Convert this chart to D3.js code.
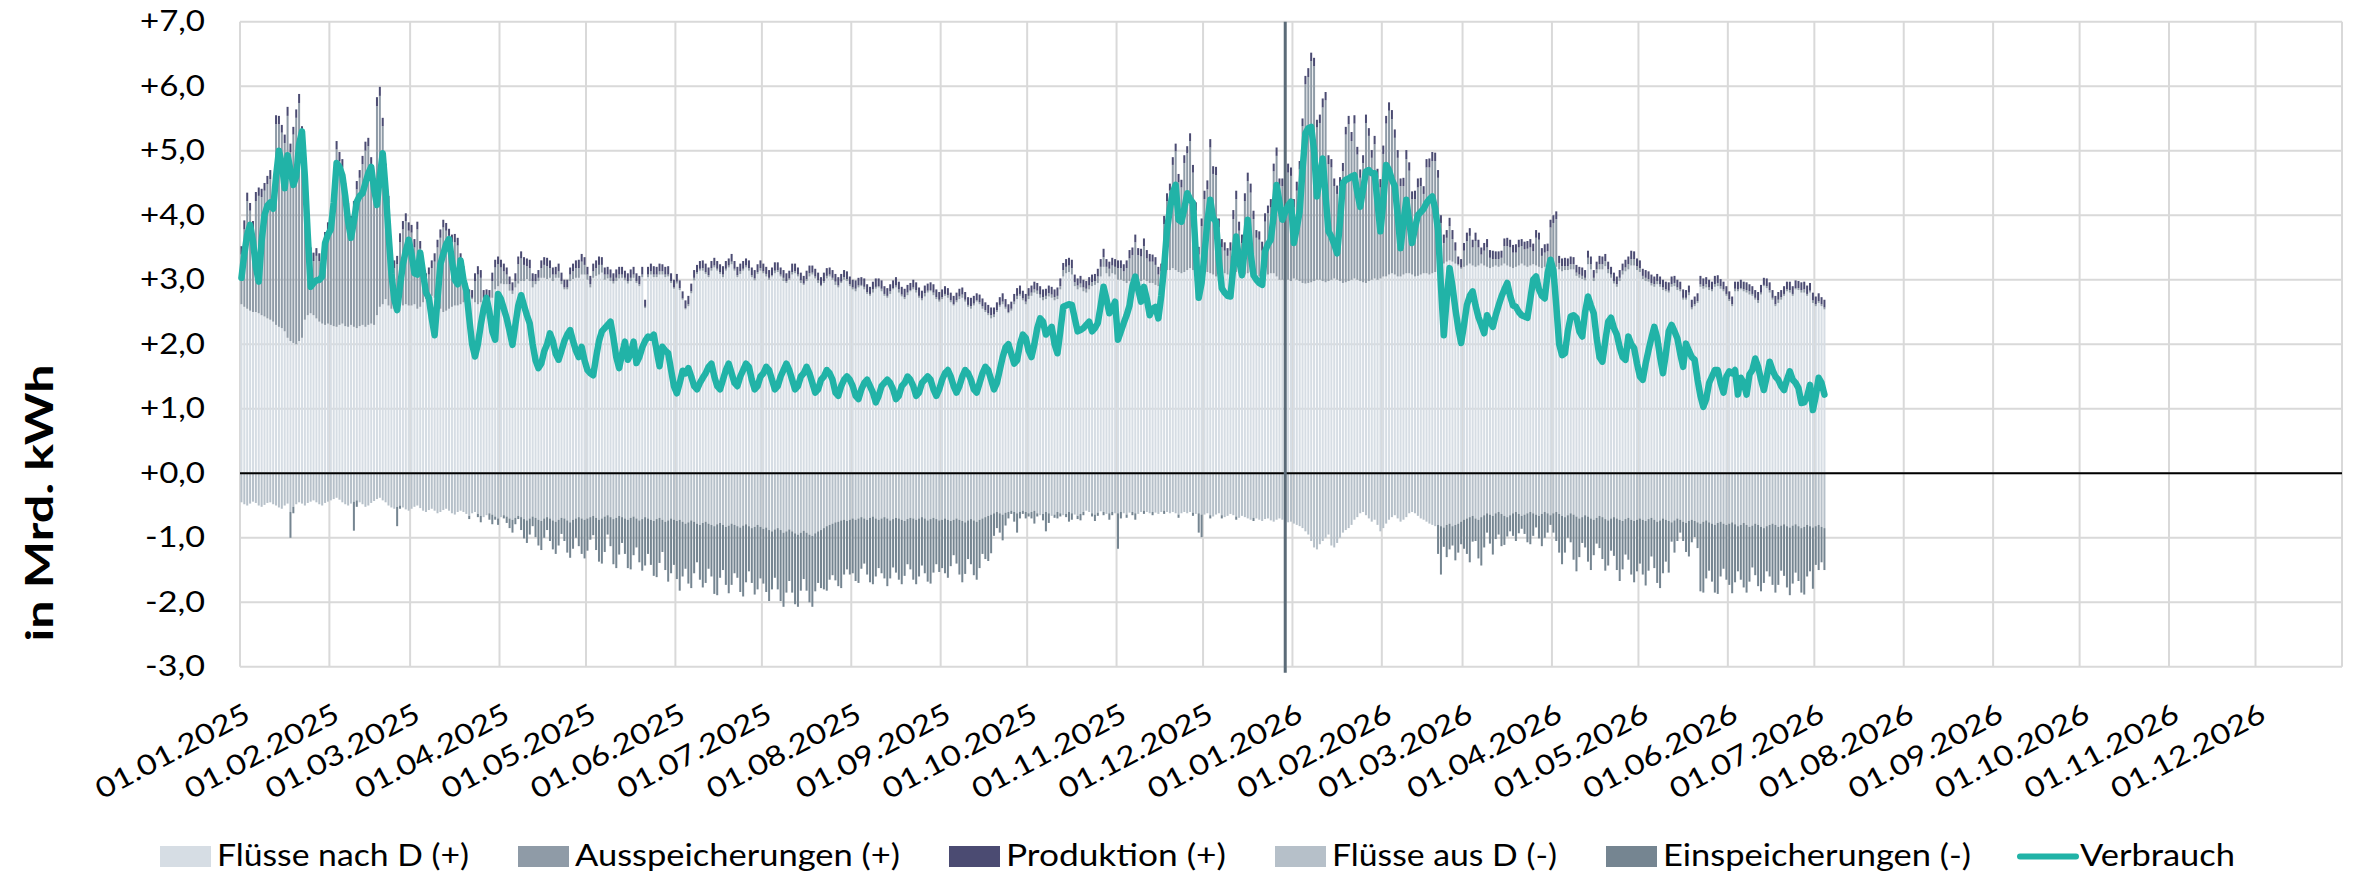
<!DOCTYPE html>
<html>
<head>
<meta charset="utf-8">
<script src="https://cdn.jsdelivr.net/npm/d3@7"></script>
<style>
  body { margin: 0; background: #fff; }
  svg text { font-family: Lato, "Open Sans", sans-serif; fill: #000; }
</style>
</head>
<body>
<svg id="chart" width="2356" height="876"></svg>
<script>
// daily values in Mrd. kWh, starting 01.01.2025 (one row per month)
const startDate = new Date(2025, 0, 1);

const verbrauch = [
  3.03,3.4,3.7,3.85,3.6,3.2,2.97,3.6,4.0,4.15,4.2,4.1,4.6,5.0,4.8,4.42,4.93,4.7,4.47,4.6,5.1,5.3,4.6,3.7,2.89,2.95,2.99,3.0,3.05,3.57,3.7,
  3.78,4.2,4.81,4.75,4.62,4.3,3.9,3.65,3.9,4.21,4.3,4.34,4.5,4.65,4.75,4.4,4.16,4.6,4.96,4.4,3.72,3.1,2.7,2.53,2.9,3.24,3.45,3.62,
  3.4,3.1,3.08,3.42,3.1,2.8,2.72,2.4,2.14,2.7,3.24,3.4,3.55,3.63,3.3,3.0,2.93,3.3,3.0,2.83,2.4,2.0,1.81,2.0,2.3,2.55,2.72,2.5,2.2,2.07,2.78,
  2.7,2.55,2.4,2.2,1.99,2.3,2.6,2.76,2.6,2.45,2.32,2.0,1.75,1.63,1.7,1.89,2.0,2.17,2.05,1.85,1.76,1.9,2.05,2.15,2.22,2.05,1.9,1.8,1.96,1.75,
  1.6,1.55,1.52,1.8,2.05,2.2,2.25,2.3,2.35,2.1,1.8,1.63,1.85,2.04,1.76,1.85,2.04,1.71,1.8,1.95,2.05,2.12,2.1,2.15,1.9,1.66,1.96,1.9,1.86,1.6,1.35,
  1.24,1.4,1.59,1.55,1.63,1.5,1.35,1.3,1.4,1.48,1.55,1.65,1.7,1.5,1.35,1.3,1.45,1.6,1.7,1.55,1.4,1.35,1.5,1.6,1.7,1.65,1.45,1.3,1.35,1.5,
  1.55,1.65,1.6,1.45,1.3,1.35,1.5,1.6,1.7,1.6,1.45,1.3,1.35,1.5,1.55,1.65,1.55,1.4,1.25,1.3,1.45,1.5,1.6,1.55,1.45,1.25,1.2,1.35,1.45,1.5,1.45,
  1.35,1.2,1.15,1.3,1.4,1.45,1.35,1.25,1.1,1.2,1.35,1.4,1.45,1.4,1.3,1.15,1.2,1.35,1.4,1.5,1.45,1.35,1.2,1.25,1.4,1.45,1.5,1.45,1.3,1.2,1.3,
  1.45,1.55,1.6,1.5,1.35,1.25,1.35,1.5,1.6,1.55,1.45,1.3,1.25,1.4,1.55,1.65,1.6,1.45,1.3,1.4,1.6,1.8,1.95,2.0,1.85,1.7,1.75,2.0,2.15,2.1,
  1.9,1.8,2.0,2.25,2.4,2.35,2.15,2.2,2.27,2.0,1.86,2.2,2.58,2.6,2.62,2.61,2.4,2.2,2.22,2.25,2.3,2.35,2.2,2.25,2.33,2.6,2.89,2.7,2.48,2.55,2.66,
  2.07,2.2,2.33,2.45,2.6,2.9,3.05,2.85,2.66,2.89,2.7,2.45,2.55,2.58,2.4,2.75,3.2,3.77,4.1,4.35,4.47,3.93,3.9,4.1,4.34,4.25,4.19,3.4,2.72,2.95,
  3.4,3.9,4.24,3.95,3.9,3.3,2.87,2.8,2.75,2.74,3.2,3.67,3.3,3.07,3.5,3.93,3.4,3.07,3.0,2.95,2.92,3.44,3.55,3.62,4.0,4.47,4.2,3.93,4.05,4.15,4.21,
  3.57,3.8,4.06,4.7,5.27,5.35,5.37,5.0,4.29,4.6,4.88,4.3,3.75,3.67,3.55,3.41,3.9,4.5,4.55,4.57,4.6,4.62,4.35,4.13,4.4,4.68,4.7,4.65,4.65,4.2,3.75,
  4.2,4.78,4.7,4.55,4.45,4.0,3.49,3.9,4.24,3.9,3.57,3.8,4.0,4.05,4.1,4.19,4.25,4.29,4.1,3.77,2.9,2.14,2.7,3.18,2.9,2.55,2.25,2.02,
  2.3,2.61,2.75,2.82,2.6,2.42,2.3,2.17,2.45,2.35,2.27,2.45,2.6,2.74,2.85,2.95,2.75,2.6,2.58,2.5,2.45,2.43,2.41,2.7,3.0,3.05,2.85,2.75,2.71,3.1,3.31,
  3.15,2.6,2.0,1.83,1.86,2.2,2.43,2.45,2.41,2.2,2.12,2.5,2.74,2.6,2.48,2.1,1.8,1.73,2.05,2.35,2.41,2.25,2.15,1.95,1.8,1.76,2.12,2.0,1.94,1.7,
  1.5,1.45,1.7,1.91,2.1,2.27,2.1,1.8,1.55,1.85,2.2,2.3,2.2,2.09,1.85,1.65,2.01,1.9,1.8,1.76,1.45,1.2,1.03,1.15,1.4,1.5,1.6,1.6,1.4,1.25,1.5,
  1.58,1.55,1.6,1.22,1.48,1.4,1.22,1.53,1.6,1.78,1.65,1.45,1.29,1.5,1.73,1.6,1.5,1.45,1.35,1.29,1.45,1.58,1.45,1.4,1.32,1.09,1.1,1.19,1.37,0.98,
  1.2,1.48,1.4,1.22
];

const flussNachD = [
  2.62,2.58,2.55,2.52,2.5,2.5,2.48,2.45,2.43,2.4,2.38,2.35,2.3,2.27,2.25,2.2,2.1,2.05,2.02,2.0,2.05,2.1,2.38,2.45,2.48,2.45,2.4,2.35,2.32,2.3,2.32,
  2.3,2.28,2.27,2.3,2.32,2.28,2.27,2.3,2.27,2.25,2.28,2.3,2.27,2.3,2.32,2.3,2.45,2.58,2.62,2.7,2.6,2.55,2.55,2.55,2.6,2.6,2.62,2.6,
  2.6,2.62,2.55,2.58,2.65,2.7,2.72,2.75,2.72,2.6,2.55,2.5,2.52,2.55,2.58,2.6,2.6,2.62,2.65,2.7,2.72,2.7,2.65,2.62,2.65,2.7,2.72,2.7,2.72,2.85,2.9,
  2.94,2.93,2.93,2.83,2.78,2.88,2.94,2.98,2.98,3.01,2.98,2.88,2.93,2.98,3.03,3.03,3.01,3.03,2.98,3.03,3.03,2.93,2.85,2.85,2.98,3.01,3.03,3.03,3.08,3.08,
  3.0,2.88,3.03,3.06,3.08,3.11,3.0,3.02,2.98,2.94,2.98,3.02,3.03,2.99,2.94,2.98,3.03,2.95,2.9,3.04,2.56,3.04,3.08,3.04,3.04,3.08,3.08,3.04,3.05,2.95,2.86,
  2.94,2.84,2.69,2.54,2.59,2.79,2.99,3.09,3.14,3.14,3.09,3.04,3.14,3.19,3.14,3.09,3.04,3.14,3.19,3.24,3.14,3.04,3.09,3.14,3.19,3.14,3.04,2.99,3.09,3.14,
  3.1,3.05,3.0,3.05,3.1,3.12,3.05,2.98,2.95,3.0,3.08,3.1,3.05,2.95,2.92,2.98,3.05,3.08,3.02,2.95,2.9,2.95,3.02,3.05,3.0,2.92,2.88,2.95,3.0,2.98,2.9,
  2.85,2.82,2.88,2.9,2.85,2.78,2.75,2.8,2.86,2.88,2.82,2.75,2.72,2.78,2.85,2.88,2.8,2.74,2.7,2.76,2.82,2.85,2.8,2.72,2.68,2.74,2.8,2.82,2.76,2.7,2.66,
  2.7,2.75,2.72,2.65,2.6,2.65,2.7,2.72,2.66,2.58,2.55,2.6,2.66,2.62,2.55,2.5,2.45,2.4,2.42,2.5,2.58,2.62,2.55,2.48,2.52,2.62,2.7,2.75,2.68,2.62,
  2.7,2.75,2.8,2.78,2.72,2.68,2.7,2.74,2.72,2.68,2.7,2.85,3.05,3.1,3.12,3.08,2.9,2.85,2.88,2.82,2.8,2.85,2.9,2.92,2.95,3.05,3.2,3.1,3.05,3.1,3.08,
  3.0,3.0,2.98,2.95,2.98,3.0,3.02,3.0,2.98,3.0,2.98,2.95,2.95,2.92,2.9,2.92,3.1,3.15,3.15,3.18,3.15,3.12,3.1,3.12,3.15,3.18,3.15,3.1,3.05,3.1,
  3.1,3.12,3.1,3.08,3.05,3.1,3.12,3.1,3.08,3.05,3.1,3.12,3.1,3.05,3.08,3.1,3.12,3.1,3.08,3.05,3.02,3.05,3.08,3.1,3.1,3.05,3.0,3.0,3.02,3.0,2.98,
  3.02,3.0,2.98,2.95,2.94,2.95,2.96,2.98,3.0,3.0,2.98,2.96,2.98,3.0,3.02,3.0,2.98,2.95,2.96,2.98,3.0,3.02,3.0,2.98,2.96,2.95,2.98,3.0,3.02,3.0,3.02,
  3.05,3.05,3.08,3.1,3.08,3.05,3.05,3.08,3.1,3.1,3.08,3.05,3.06,3.08,3.1,3.1,3.08,3.1,3.12,3.15,3.2,3.25,3.28,3.3,3.28,3.25,3.22,3.17,
  3.2,3.22,3.25,3.22,3.2,3.22,3.25,3.22,3.2,3.18,3.2,3.22,3.2,3.22,3.25,3.22,3.2,3.18,3.2,3.22,3.25,3.22,3.2,3.22,3.24,3.22,3.2,3.18,3.2,3.22,3.25,
  3.2,3.2,3.16,3.13,3.15,3.15,3.16,3.16,3.06,3.03,3.01,2.99,3.24,3.16,2.98,3.1,3.16,3.16,3.21,3.1,3.03,2.94,2.89,2.98,3.08,3.13,3.16,3.22,3.22,3.15,
  3.12,3.01,2.98,2.97,2.91,2.89,2.93,2.89,2.84,2.82,2.8,2.89,2.9,2.84,2.82,2.69,2.69,2.76,2.54,2.59,2.64,2.89,2.86,2.88,2.84,2.82,2.89,2.9,2.86,2.82,2.75,
  2.67,2.59,2.82,2.82,2.85,2.82,2.8,2.77,2.75,2.69,2.64,2.77,2.9,2.87,2.8,2.69,2.59,2.64,2.69,2.75,2.82,2.8,2.75,2.85,2.84,2.8,2.8,2.75,2.8,2.64,
  2.59,2.64,2.59,2.54
];

const ausspeicherung = [
  0.77,1.2,1.67,1.55,1.28,1.72,1.82,1.83,1.95,2.08,2.18,1.98,3.11,3.14,3.03,2.92,3.44,2.93,3.23,3.51,3.69,3.15,1.94,1.15,0.9,0.84,0.97,0.94,0.92,1.3,1.44,
  1.51,2.0,2.75,2.54,2.42,2.1,1.8,1.56,1.81,2.15,2.3,2.49,2.73,2.77,2.46,1.92,3.24,3.27,2.76,1.98,1.58,0.51,0.63,0.69,0.98,1.18,1.29,1.16,
  1.13,0.88,1.23,0.9,0.43,0.28,0.36,0.43,0.56,0.9,1.1,1.31,1.24,1.13,1.0,0.98,0.93,0.67,0.43,0.13,0.02,0.02,0.33,0.46,0.38,0.02,0.02,0.02,0.26,0.34,0.34,
  0.25,0.2,0.15,0.1,0.05,0.1,0.3,0.35,0.25,0.2,0.2,0.1,0.05,0.05,0.15,0.2,0.2,0.15,0.1,0.05,0.1,0.05,0.03,0.03,0.1,0.12,0.15,0.15,0.2,0.15,
  0.08,0.05,0.1,0.12,0.15,0.12,0.08,0.06,0.05,0.04,0.05,0.06,0.05,0.04,0.04,0.05,0.05,0.03,0.03,0.04,0.02,0.04,0.05,0.04,0.04,0.05,0.05,0.04,0.03,0.03,0.02,
  0.03,0.03,0.02,0.02,0.03,0.03,0.04,0.03,0.03,0.04,0.03,0.03,0.04,0.03,0.03,0.03,0.04,0.03,0.03,0.04,0.03,0.03,0.04,0.03,0.03,0.04,0.03,0.03,0.03,0.04,
  0.03,0.04,0.03,0.02,0.04,0.03,0.03,0.05,0.03,0.02,0.04,0.03,0.03,0.04,0.02,0.03,0.05,0.03,0.03,0.04,0.02,0.03,0.04,0.03,0.03,0.05,0.03,0.02,0.04,0.03,0.03,
  0.03,0.04,0.03,0.02,0.04,0.03,0.03,0.05,0.03,0.02,0.04,0.03,0.03,0.04,0.02,0.03,0.05,0.03,0.03,0.04,0.02,0.03,0.04,0.03,0.03,0.05,0.03,0.02,0.04,0.03,0.03,
  0.03,0.03,0.04,0.03,0.02,0.03,0.04,0.05,0.03,0.03,0.04,0.03,0.02,0.03,0.04,0.03,0.03,0.05,0.04,0.03,0.03,0.04,0.03,0.02,0.03,0.04,0.05,0.03,0.03,0.04,
  0.05,0.05,0.05,0.05,0.05,0.05,0.05,0.05,0.05,0.05,0.05,0.05,0.1,0.1,0.1,0.1,0.06,0.06,0.06,0.06,0.06,0.06,0.06,0.06,0.1,0.15,0.15,0.1,0.12,0.12,0.12,
  0.18,0.18,0.15,0.23,0.35,0.38,0.56,0.38,0.38,0.52,0.35,0.33,0.33,0.31,0.18,0.21,0.76,1.07,1.23,1.6,1.84,1.39,1.33,1.69,1.81,1.97,1.51,0.97,0.34,0.73,
  1.15,1.28,1.95,1.56,1.57,0.71,0.38,0.35,0.29,0.4,0.84,1.13,0.66,0.52,1.14,1.43,1.23,0.84,0.57,0.57,0.43,0.85,0.95,1.02,1.58,1.87,1.45,1.45,0.94,1.66,1.63,
  1.1,1.38,1.73,2.43,3.09,3.19,3.43,3.33,2.36,2.43,2.69,2.82,1.81,1.74,1.43,1.33,1.47,1.73,2.29,2.43,2.15,2.4,1.94,1.6,1.85,2.48,2.25,1.89,2.08,1.58,1.41,
  1.9,2.37,2.54,2.39,2.12,1.84,1.4,1.37,1.77,1.59,1.17,1.2,1.37,1.37,1.23,1.64,1.66,1.74,1.72,1.43,0.68,0.32,0.37,0.53,0.35,0.2,0.02,0.02,
  0.25,0.38,0.43,0.28,0.4,0.28,0.14,0.23,0.3,0.16,0.12,0.1,0.12,0.12,0.27,0.3,0.3,0.24,0.22,0.28,0.27,0.25,0.28,0.28,0.2,0.43,0.42,0.19,0.22,0.22,0.56,
  0.68,0.74,0.1,0.08,0.06,0.06,0.08,0.08,0.05,0.05,0.05,0.04,0.1,0.08,0.05,0.06,0.08,0.08,0.08,0.06,0.05,0.04,0.04,0.05,0.06,0.06,0.08,0.1,0.1,0.06,
  0.06,0.05,0.05,0.04,0.04,0.04,0.05,0.04,0.04,0.03,0.03,0.04,0.05,0.04,0.03,0.03,0.03,0.04,0.03,0.03,0.03,0.04,0.04,0.05,0.04,0.03,0.04,0.05,0.04,0.03,0.03,
  0.03,0.03,0.04,0.03,0.02,0.03,0.04,0.05,0.03,0.03,0.04,0.03,0.02,0.03,0.04,0.03,0.03,0.05,0.04,0.03,0.03,0.04,0.03,0.02,0.03,0.04,0.05,0.03,0.03,0.04,
  0.03,0.03,0.03,0.03
];

const produktion = [
  0.13,0.14,0.13,0.12,0.13,0.14,0.13,0.13,0.12,0.13,0.14,0.13,0.14,0.13,0.12,0.13,0.14,0.13,0.12,0.13,0.14,0.13,0.12,0.13,0.12,0.13,0.12,0.12,0.13,0.14,0.13,
  0.13,0.12,0.13,0.14,0.13,0.12,0.12,0.13,0.14,0.13,0.12,0.13,0.14,0.13,0.12,0.13,0.14,0.14,0.13,0.12,0.12,0.13,0.12,0.13,0.14,0.13,0.12,0.13,
  0.12,0.13,0.12,0.12,0.13,0.12,0.11,0.12,0.13,0.12,0.13,0.12,0.12,0.11,0.12,0.13,0.12,0.12,0.13,0.12,0.11,0.12,0.12,0.13,0.12,0.12,0.11,0.12,0.13,0.12,0.12,
  0.12,0.12,0.11,0.12,0.13,0.12,0.12,0.11,0.12,0.12,0.13,0.12,0.11,0.12,0.12,0.12,0.13,0.12,0.11,0.12,0.12,0.13,0.12,0.12,0.11,0.12,0.12,0.13,0.12,0.12,
  0.12,0.13,0.12,0.12,0.13,0.12,0.11,0.12,0.13,0.12,0.13,0.12,0.12,0.11,0.12,0.13,0.12,0.12,0.13,0.12,0.11,0.12,0.12,0.13,0.12,0.12,0.11,0.12,0.13,0.12,0.12,
  0.12,0.12,0.11,0.12,0.13,0.12,0.12,0.11,0.12,0.12,0.13,0.12,0.11,0.12,0.12,0.12,0.13,0.12,0.11,0.12,0.12,0.13,0.12,0.12,0.11,0.12,0.12,0.13,0.12,0.12,
  0.12,0.11,0.12,0.12,0.13,0.12,0.11,0.12,0.12,0.12,0.13,0.12,0.11,0.12,0.12,0.13,0.12,0.11,0.12,0.12,0.12,0.13,0.12,0.11,0.12,0.12,0.13,0.12,0.11,0.12,0.12,
  0.12,0.13,0.12,0.12,0.13,0.12,0.11,0.12,0.13,0.12,0.13,0.12,0.12,0.11,0.12,0.13,0.12,0.12,0.13,0.12,0.11,0.12,0.12,0.13,0.12,0.12,0.11,0.12,0.13,0.12,0.12,
  0.12,0.12,0.11,0.12,0.13,0.12,0.12,0.11,0.12,0.12,0.13,0.12,0.11,0.12,0.12,0.12,0.13,0.12,0.11,0.12,0.12,0.13,0.12,0.12,0.11,0.12,0.12,0.13,0.12,0.12,
  0.12,0.11,0.12,0.12,0.13,0.12,0.11,0.12,0.12,0.12,0.13,0.12,0.11,0.12,0.12,0.13,0.12,0.11,0.12,0.12,0.12,0.13,0.12,0.11,0.12,0.12,0.13,0.12,0.11,0.12,0.12,
  0.12,0.12,0.11,0.12,0.13,0.12,0.12,0.11,0.12,0.12,0.13,0.12,0.11,0.12,0.12,0.12,0.13,0.12,0.11,0.12,0.12,0.13,0.12,0.12,0.11,0.12,0.12,0.13,0.12,0.12,
  0.13,0.14,0.13,0.12,0.13,0.14,0.13,0.13,0.12,0.13,0.14,0.13,0.14,0.13,0.12,0.13,0.14,0.13,0.12,0.13,0.14,0.13,0.12,0.13,0.12,0.13,0.12,0.12,0.13,0.14,0.13,
  0.13,0.14,0.13,0.12,0.13,0.14,0.13,0.13,0.12,0.13,0.14,0.13,0.14,0.13,0.12,0.13,0.14,0.13,0.12,0.13,0.14,0.13,0.12,0.13,0.12,0.13,0.12,0.12,0.13,0.14,0.13,
  0.13,0.12,0.13,0.14,0.13,0.12,0.12,0.13,0.14,0.13,0.12,0.13,0.14,0.13,0.12,0.13,0.14,0.14,0.13,0.12,0.12,0.13,0.12,0.13,0.14,0.13,0.12,0.13,
  0.12,0.13,0.12,0.12,0.13,0.12,0.11,0.12,0.13,0.12,0.13,0.12,0.12,0.11,0.12,0.13,0.12,0.12,0.13,0.12,0.11,0.12,0.12,0.13,0.12,0.12,0.11,0.12,0.13,0.12,0.12,
  0.12,0.12,0.11,0.12,0.13,0.12,0.12,0.11,0.12,0.12,0.13,0.12,0.11,0.12,0.12,0.12,0.13,0.12,0.11,0.12,0.12,0.13,0.12,0.12,0.11,0.12,0.12,0.13,0.12,0.12,
  0.12,0.11,0.12,0.12,0.13,0.12,0.11,0.12,0.12,0.12,0.13,0.12,0.11,0.12,0.12,0.13,0.12,0.11,0.12,0.12,0.12,0.13,0.12,0.11,0.12,0.12,0.13,0.12,0.11,0.12,0.12,
  0.12,0.12,0.11,0.12,0.13,0.12,0.12,0.11,0.12,0.12,0.13,0.12,0.11,0.12,0.12,0.12,0.13,0.12,0.11,0.12,0.12,0.13,0.12,0.12,0.11,0.12,0.12,0.13,0.12,0.12,
  0.12,0.12,0.11,0.12
];

const flussAusD = [
  -0.45,-0.48,-0.5,-0.47,-0.44,-0.46,-0.5,-0.52,-0.49,-0.46,-0.45,-0.48,-0.5,-0.53,-0.55,-0.5,-0.47,-0.6,-0.52,-0.48,-0.45,-0.47,-0.5,-0.46,-0.44,-0.42,-0.45,-0.48,-0.5,-0.46,-0.44,
  -0.42,-0.4,-0.38,-0.41,-0.45,-0.48,-0.5,-0.47,-0.44,-0.42,-0.45,-0.48,-0.52,-0.5,-0.46,-0.43,-0.4,-0.38,-0.42,-0.45,-0.5,-0.53,-0.55,-0.52,-0.5,-0.53,-0.56,-0.58,
  -0.55,-0.52,-0.5,-0.54,-0.58,-0.6,-0.57,-0.55,-0.58,-0.62,-0.6,-0.57,-0.55,-0.58,-0.62,-0.64,-0.6,-0.58,-0.6,-0.63,-0.66,-0.62,-0.6,-0.63,-0.66,-0.68,-0.65,-0.62,-0.64,-0.67,-0.7,
  -0.68,-0.65,-0.67,-0.7,-0.72,-0.69,-0.66,-0.68,-0.71,-0.73,-0.7,-0.67,-0.69,-0.72,-0.74,-0.7,-0.68,-0.7,-0.73,-0.75,-0.72,-0.69,-0.7,-0.73,-0.76,-0.72,-0.7,-0.68,-0.7,-0.72,
  -0.7,-0.68,-0.66,-0.69,-0.72,-0.7,-0.67,-0.65,-0.68,-0.71,-0.69,-0.66,-0.68,-0.7,-0.72,-0.69,-0.67,-0.7,-0.73,-0.71,-0.68,-0.7,-0.72,-0.74,-0.71,-0.69,-0.72,-0.75,-0.73,-0.7,-0.72,
  -0.74,-0.72,-0.75,-0.78,-0.76,-0.73,-0.75,-0.78,-0.8,-0.77,-0.75,-0.78,-0.8,-0.82,-0.79,-0.77,-0.8,-0.83,-0.81,-0.78,-0.8,-0.82,-0.84,-0.81,-0.79,-0.82,-0.85,-0.83,-0.8,-0.83,
  -0.86,-0.84,-0.88,-0.9,-0.87,-0.85,-0.88,-0.92,-0.9,-0.87,-0.9,-0.93,-0.95,-0.92,-0.89,-0.92,-0.95,-0.97,-0.93,-0.9,-0.88,-0.85,-0.82,-0.8,-0.78,-0.76,-0.75,-0.73,-0.72,-0.74,-0.72,
  -0.7,-0.72,-0.7,-0.68,-0.7,-0.72,-0.69,-0.67,-0.7,-0.72,-0.7,-0.68,-0.7,-0.73,-0.71,-0.69,-0.7,-0.72,-0.74,-0.71,-0.69,-0.7,-0.72,-0.7,-0.68,-0.7,-0.73,-0.71,-0.69,-0.71,-0.73,
  -0.72,-0.7,-0.72,-0.74,-0.72,-0.7,-0.72,-0.74,-0.76,-0.73,-0.71,-0.73,-0.75,-0.72,-0.7,-0.68,-0.66,-0.64,-0.62,-0.6,-0.62,-0.64,-0.61,-0.6,-0.58,-0.6,-0.62,-0.6,-0.58,-0.6,
  -0.62,-0.6,-0.58,-0.62,-0.65,-0.63,-0.6,-0.62,-0.66,-0.64,-0.6,-0.62,-0.65,-0.63,-0.6,-0.62,-0.64,-0.66,-0.63,-0.6,-0.58,-0.6,-0.62,-0.64,-0.61,-0.59,-0.6,-0.63,-0.62,-0.6,-0.62,
  -0.62,-0.6,-0.62,-0.64,-0.61,-0.6,-0.62,-0.63,-0.6,-0.58,-0.6,-0.62,-0.6,-0.61,-0.63,-0.6,-0.58,-0.6,-0.62,-0.6,-0.62,-0.64,-0.62,-0.6,-0.62,-0.6,-0.61,-0.63,-0.62,-0.64,
  -0.64,-0.62,-0.65,-0.67,-0.64,-0.62,-0.65,-0.68,-0.66,-0.63,-0.65,-0.67,-0.69,-0.66,-0.68,-0.7,-0.72,-0.69,-0.7,-0.72,-0.74,-0.71,-0.7,-0.73,-0.75,-0.72,-0.7,-0.72,-0.74,-0.76,-0.75,
  -0.78,-0.8,-0.82,-0.85,-0.9,-0.95,-1.05,-1.15,-1.18,-1.1,-1.05,-1.0,-0.95,-1.12,-1.15,-1.08,-1.0,-0.92,-0.88,-0.85,-0.8,-0.72,-0.68,-0.62,-0.6,-0.65,-0.7,-0.75,-0.72,-0.8,-0.9,
  -0.85,-0.78,-0.72,-0.68,-0.65,-0.7,-0.75,-0.72,-0.68,-0.62,-0.6,-0.62,-0.66,-0.7,-0.72,-0.75,-0.78,-0.8,-0.82,-0.8,-0.82,-0.84,-0.8,-0.78,-0.82,-0.8,-0.78,-0.75,
  -0.72,-0.7,-0.68,-0.66,-0.7,-0.72,-0.68,-0.65,-0.62,-0.64,-0.66,-0.62,-0.6,-0.63,-0.66,-0.68,-0.65,-0.62,-0.6,-0.63,-0.66,-0.64,-0.62,-0.6,-0.62,-0.64,-0.66,-0.63,-0.6,-0.62,-0.65,
  -0.62,-0.6,-0.63,-0.66,-0.68,-0.65,-0.62,-0.64,-0.67,-0.7,-0.68,-0.65,-0.67,-0.7,-0.72,-0.69,-0.66,-0.68,-0.71,-0.73,-0.7,-0.68,-0.7,-0.72,-0.74,-0.71,-0.69,-0.72,-0.74,-0.72,
  -0.7,-0.72,-0.74,-0.71,-0.69,-0.72,-0.75,-0.73,-0.7,-0.72,-0.74,-0.76,-0.73,-0.7,-0.72,-0.75,-0.77,-0.74,-0.72,-0.74,-0.76,-0.78,-0.75,-0.73,-0.76,-0.78,-0.8,-0.77,-0.75,-0.78,-0.8,
  -0.78,-0.76,-0.79,-0.82,-0.8,-0.77,-0.8,-0.83,-0.81,-0.78,-0.8,-0.83,-0.85,-0.82,-0.8,-0.78,-0.8,-0.83,-0.81,-0.79,-0.82,-0.84,-0.81,-0.79,-0.82,-0.85,-0.83,-0.8,-0.82,-0.84,
  -0.82,-0.8,-0.83,-0.85
];

const einspeicherung = [
  0,0,0,0,0,0,0,0,0,0,0,0,0,0,0,0,0,-0.4,-0.1,0,0,0,0,0,0,0,0,0,0,0,0,
  0,0,0,0,0,0,0,0,-0.45,-0.1,0,0,0,0,0,0,0,0,0,0,0,0,0,-0.3,-0.05,0,0,0,
  0,0,0,0,0,0,0,0,0,0,0,0,0,0,0,0,0,0,0,0,-0.05,0,0,-0.05,-0.1,0,0,-0.1,-0.15,-0.05,-0.1,
  0,-0.05,-0.1,-0.15,-0.2,-0.1,-0.05,-0.2,-0.3,-0.35,-0.25,-0.15,-0.3,-0.4,-0.45,-0.3,-0.2,-0.35,-0.45,-0.5,-0.4,-0.25,-0.35,-0.5,-0.55,-0.45,-0.3,-0.45,-0.55,-0.6,
  -0.5,-0.35,-0.3,-0.5,-0.65,-0.7,-0.55,-0.3,-0.45,-0.7,-0.78,-0.6,-0.4,-0.55,-0.75,-0.8,-0.6,-0.45,-0.65,-0.8,-0.75,-0.55,-0.7,-0.85,-0.9,-0.7,-0.5,-0.75,-0.95,-0.85,-0.7,
  -0.9,-1.1,-0.85,-0.7,-0.95,-1.05,-0.8,-0.6,-0.85,-1.0,-0.95,-0.7,-0.8,-1.05,-1.1,-0.85,-0.7,-0.9,-1.05,-0.95,-0.75,-0.8,-1.0,-1.1,-0.9,-0.7,-0.85,-1.05,-1.0,-0.8,
  -0.85,-1.0,-1.1,-0.9,-0.75,-0.95,-1.1,-1.15,-0.95,-0.8,-0.95,-1.1,-1.12,-0.9,-0.75,-0.9,-1.05,-1.1,-0.9,-0.8,-0.9,-0.95,-1.0,-0.85,-0.8,-0.9,-1.0,-1.05,-0.85,-0.75,-0.85,
  -0.85,-0.95,-1.0,-0.8,-0.7,-0.85,-1.0,-1.05,-0.9,-0.75,-0.85,-0.95,-1.05,-0.9,-0.75,-0.85,-0.95,-1.0,-0.85,-0.7,-0.8,-0.95,-1.0,-0.9,-0.75,-0.85,-0.95,-1.0,-0.85,-0.7,-0.8,
  -0.75,-0.85,-0.9,-0.7,-0.55,-0.7,-0.85,-0.95,-0.8,-0.6,-0.7,-0.85,-0.9,-0.75,-0.55,-0.65,-0.7,-0.6,-0.35,-0.25,-0.3,-0.4,-0.2,-0.1,-0.05,-0.15,-0.3,-0.1,-0.05,-0.1,
  -0.05,-0.1,-0.2,-0.05,0,-0.1,-0.3,-0.15,0,-0.05,-0.1,-0.05,0,-0.05,-0.15,-0.1,0,-0.05,-0.1,-0.05,0,0,-0.05,-0.1,-0.05,0,-0.05,0,-0.1,-0.05,0,
  -0.55,-0.1,0,-0.05,0,-0.05,-0.1,0,0,-0.05,0,0,-0.05,0,0,0,-0.05,0,0,0,0,-0.05,0,0,0,0,-0.05,0,-0.3,-0.35,
  0,0,-0.05,0,0,0,-0.05,0,0,0,0,-0.05,0,0,0,0,0,-0.05,0,0,0,0,0,0,0,0,0,0,0,0,0,
  0,0,0,0,0,0,0,0,0,0,0,0,0,0,0,0,0,0,0,0,0,0,0,0,0,0,0,0,0,0,0,
  0,0,0,0,0,0,0,0,0,0,0,0,0,0,0,0,0,0,0,-0.45,-0.75,-0.3,-0.5,-0.4,-0.3,-0.55,-0.45,-0.35,
  -0.45,-0.55,-0.7,-0.4,-0.35,-0.6,-0.75,-0.5,-0.3,-0.45,-0.6,-0.4,-0.35,-0.5,-0.45,-0.3,-0.25,-0.35,-0.45,-0.3,-0.2,-0.3,-0.45,-0.5,-0.35,-0.2,-0.35,-0.5,-0.4,-0.3,-0.15,
  -0.3,-0.45,-0.6,-0.75,-0.55,-0.35,-0.45,-0.7,-0.85,-0.6,-0.4,-0.5,-0.7,-0.8,-0.55,-0.4,-0.5,-0.65,-0.8,-0.7,-0.5,-0.6,-0.8,-0.95,-0.75,-0.55,-0.65,-0.85,-0.95,-0.8,
  -0.7,-0.85,-1.0,-0.8,-0.6,-0.75,-0.95,-1.05,-0.85,-0.65,-0.8,-0.3,-0.5,-0.35,-0.2,-0.3,-0.45,-0.55,-0.35,-0.25,-0.4,-1.05,-1.1,-0.9,-0.75,-0.9,-1.05,-1.1,-0.85,-0.7,-0.85,
  -0.95,-1.1,-0.9,-0.7,-0.85,-1.0,-1.05,-0.85,-0.65,-0.8,-0.95,-1.0,-0.85,-0.7,-0.8,-0.95,-1.05,-0.9,-0.7,-0.8,-0.95,-1.05,-0.9,-0.75,-0.85,-1.0,-1.05,-0.8,-0.7,-0.95,
  -0.6,-0.7,-0.55,-0.65
];

const yTicks = [-3, -2, -1, 0, 1, 2, 3, 4, 5, 6, 7];
const markerDate = new Date(2025, 11, 29, 12);

const keys = ["nachD", "aus", "prod", "out", "ein"];
const colors = {
  nachD: "#d6dde4", aus: "#8f9ba7", prod: "#4b4b72",
  out: "#b6c0c9", ein: "#758591", verbrauch: "#21b3a7"
};
const labels = {
  nachD: "Flüsse nach D (+)", aus: "Ausspeicherungen (+)", prod: "Produktion (+)",
  out: "Flüsse aus D (-)", ein: "Einspeicherungen (-)", verbrauch: "Verbrauch"
};
// widths the legend texts take in the reference
const legendWidth = { nachD: 252, aus: 325, prod: 220, out: 225, ein: 308, verbrauch: 155 };

const svg = d3.select("#chart");
const plotL = 240, plotR = 2342, plotT = 21.7, plotB = 666.8;

const x = d3.scaleTime()
  .domain([new Date(2025, 0, 1), new Date(2026, 11, 31)])
  .range([plotL, plotR]);
const y = d3.scaleLinear().domain([-3, 7]).range([plotB, plotT]);

const rows = verbrauch.map((v, i) => ({
  date: d3.timeDay.offset(startDate, i),
  nachD: flussNachD[i] || 0,
  aus: ausspeicherung[i] || 0,
  prod: produktion[i] || 0,
  out: flussAusD[i] || 0,
  ein: einspeicherung[i] || 0,
  verbrauch: v
}));

const series = d3.stack().keys(keys).offset(d3.stackOffsetDiverging)(rows);
const xc = d => x(d3.timeHour.offset(d, 12));   // bar centred on the day

// grid
const months = d3.timeMonth.range(new Date(2025, 0, 1), new Date(2027, 0, 1));
const grid = svg.append("g").attr("stroke", "#d9d9d9").attr("stroke-width", 2);
grid.selectAll(".h").data(yTicks).join("line")
  .attr("x1", plotL).attr("x2", plotR)
  .attr("y1", d => y(d)).attr("y2", d => y(d));
grid.selectAll(".v").data(months.map(m => x(m)).concat([plotR])).join("line")
  .attr("x1", d => d).attr("x2", d => d)
  .attr("y1", plotT).attr("y2", plotB);

// bars
const bw = 2;
const gBars = svg.append("g");
series.forEach(s => {
  gBars.append("g").attr("fill", colors[s.key])
    .selectAll("rect").data(s).join("rect")
    .attr("x", d => xc(d.data.date) - bw / 2)
    .attr("width", bw)
    .attr("y", d => y(Math.max(d[0], d[1])))
    .attr("height", d => Math.abs(y(d[0]) - y(d[1])));
});

// zero line
svg.append("line")
  .attr("x1", plotL).attr("x2", plotR)
  .attr("y1", y(0)).attr("y2", y(0))
  .attr("stroke", "#000").attr("stroke-width", 2);

// marker line
svg.append("line")
  .attr("x1", x(markerDate)).attr("x2", x(markerDate))
  .attr("y1", plotT).attr("y2", plotB + 6)
  .attr("stroke", "#5b6b78").attr("stroke-width", 3);

// Verbrauch
svg.append("path")
  .datum(rows)
  .attr("fill", "none")
  .attr("stroke", colors.verbrauch)
  .attr("stroke-width", 6.5)
  .attr("stroke-linejoin", "round")
  .attr("stroke-linecap", "round")
  .attr("d", d3.line().x(d => xc(d.date)).y(d => y(d.verbrauch)));

// y labels (start-anchored so the stretched width is placed exactly)
const de = d3.formatLocale({ decimal: ",", thousands: ".", grouping: [3], currency: ["", " €"], minus: "-" });
const fmtY = de.format("+.1f");
const yLabelW = d => d < 0 ? 60 : 65;
svg.append("g").selectAll("text").data(yTicks).join("text")
  .attr("x", d => 205 - yLabelW(d)).attr("y", d => y(d) + 9.5)
  .attr("font-size", 28)
  .attr("textLength", yLabelW)
  .attr("lengthAdjust", "spacingAndGlyphs")
  .text(d => fmtY(d));

// x labels
const fmtX = d3.timeFormat("%d.%m.%Y");
const xLabelW = 170;
svg.append("g").selectAll("text").data(months).join("text")
  .attr("x", -xLabelW)
  .attr("font-size", 28)
  .attr("textLength", xLabelW)
  .attr("lengthAdjust", "spacingAndGlyphs")
  .attr("transform", d => `translate(${x(d) + 12},720) rotate(-28)`)
  .text(d => fmtX(d));

// y title
svg.append("text")
  .attr("transform", "translate(53,503) rotate(-90)")
  .attr("x", -277 / 2)
  .attr("font-size", 38)
  .attr("font-weight", "bold")
  .attr("textLength", 277)
  .attr("lengthAdjust", "spacingAndGlyphs")
  .text("in Mrd. kWh");

// legend
const legend = svg.append("g");
let lx = 160;
["nachD", "aus", "prod", "out", "ein", "verbrauch"].forEach(k => {
  let tx;
  if (k === "verbrauch") {
    legend.append("line")
      .attr("x1", lx).attr("x2", lx + 56)
      .attr("y1", 856.5).attr("y2", 856.5)
      .attr("stroke", colors[k]).attr("stroke-width", 6).attr("stroke-linecap", "round");
    tx = lx + 60;
  } else {
    legend.append("rect")
      .attr("x", lx).attr("y", 846).attr("width", 51).attr("height", 21)
      .attr("fill", colors[k]);
    tx = lx + 57;
  }
  legend.append("text")
    .attr("x", tx).attr("y", 866)
    .attr("font-size", 30)
    .attr("textLength", legendWidth[k])
    .attr("lengthAdjust", "spacingAndGlyphs")
    .text(labels[k]);
  lx = tx + legendWidth[k] + 49;
});
</script>
</body>
</html>
